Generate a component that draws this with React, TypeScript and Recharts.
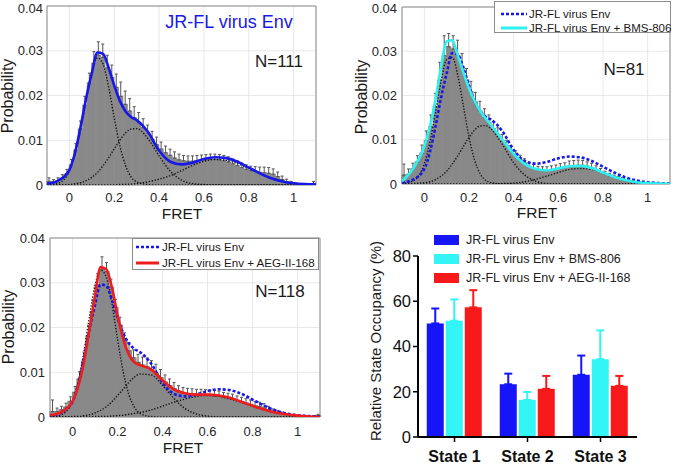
import React from "react";
import {
  ComposedChart,
  BarChart,
  Bar,
  Line,
  XAxis,
  YAxis,
  CartesianGrid,
  ErrorBar,
  ReferenceArea,
} from "recharts";

const FONT = '"Liberation Sans", Arial, Helvetica, sans-serif';

// FRET histogram bins (centres, width 0.02)
const BIN_CENTERS = [
  -0.09, -0.07, -0.05, -0.03, -0.01, 0.01, 0.03, 0.05, 0.07, 0.09,
  0.11, 0.13, 0.15, 0.17, 0.19, 0.21, 0.23, 0.25, 0.27, 0.29,
  0.31, 0.33, 0.35, 0.37, 0.39, 0.41, 0.43, 0.45, 0.47, 0.49,
  0.51, 0.53, 0.55, 0.57, 0.59, 0.61, 0.63, 0.65, 0.67, 0.69,
  0.71, 0.73, 0.75, 0.77, 0.79, 0.81, 0.83, 0.85, 0.87, 0.89,
  0.91, 0.93, 0.95, 0.97, 0.99, 1.01, 1.03, 1.05, 1.07, 1.09,
];

const X_TICKS = [0, 0.2, 0.4, 0.6, 0.8, 1];
const Y_TICKS = [0, 0.01, 0.02, 0.03, 0.04];

// JR-FL virus Env
const HIST_WT = [
  0.0008, 0.0007, 0.001, 0.0015, 0.0025, 0.0045, 0.0078, 0.0125, 0.0178, 0.0228,
  0.0272, 0.029, 0.0285, 0.0262, 0.024, 0.0218, 0.0198, 0.018, 0.0165, 0.015,
  0.014, 0.0128, 0.0116, 0.0102, 0.009, 0.008, 0.0072, 0.0066, 0.006, 0.0056,
  0.0054, 0.0053, 0.0053, 0.0054, 0.0055, 0.0056, 0.0057, 0.0057, 0.0056, 0.0054,
  0.0051, 0.0047, 0.0043, 0.0039, 0.0035, 0.0032, 0.003, 0.0028, 0.0027, 0.0026,
  0.0024, 0.0019, 0.0012, 0.0007, 0.0004, 0.0002, 0.0001, 0.0001, 0.0001, 0.0003,
];
const ERR_WT = [
  0.0008, 0.0005, 0.0006, 0.0008, 0.001, 0.0012, 0.0015, 0.0018, 0.002, 0.0022,
  0.0026, 0.003, 0.003, 0.0028, 0.0028, 0.003, 0.0032, 0.003, 0.0028, 0.0025,
  0.0022, 0.002, 0.0018, 0.0018, 0.0017, 0.0016, 0.0015, 0.0014, 0.0014, 0.0013,
  0.0012, 0.0012, 0.0012, 0.0012, 0.0012, 0.0012, 0.0012, 0.0012, 0.0012, 0.0012,
  0.0012, 0.0011, 0.0011, 0.001, 0.001, 0.001, 0.0011, 0.0012, 0.0013, 0.0013,
  0.0012, 0.001, 0.0008, 0.0006, 0.0004, 0.0003, 0.0002, 0.0002, 0.0002, 0.0005,
];

// JR-FL virus Env + BMS-806
const HIST_BMS = [
  0.002, 0.0022, 0.0035, 0.005, 0.007, 0.0098, 0.013, 0.0175, 0.0235, 0.029,
  0.031, 0.0305, 0.029, 0.0265, 0.0235, 0.0208, 0.0185, 0.0165, 0.015, 0.0138,
  0.0125, 0.0112, 0.0098, 0.0086, 0.0074, 0.0064, 0.0055, 0.0047, 0.004, 0.0035,
  0.0032, 0.0031, 0.0031, 0.0032, 0.0034, 0.0036, 0.0038, 0.004, 0.0041, 0.0042,
  0.0042, 0.004, 0.0037, 0.0032, 0.0027, 0.0022, 0.0018, 0.0015, 0.0012, 0.0009,
  0.0007, 0.0005, 0.0004, 0.0003, 0.0002, 0.0001, 0.0001, 0.0001, 0, 0,
];
const ERR_BMS = [
  0.0025, 0.0012, 0.0012, 0.0014, 0.0018, 0.0022, 0.0026, 0.003, 0.004, 0.0045,
  0.003, 0.003, 0.0035, 0.003, 0.0026, 0.0024, 0.0022, 0.0022, 0.002, 0.0018,
  0.0016, 0.0015, 0.0014, 0.0013, 0.0012, 0.0011, 0.001, 0.001, 0.0009, 0.0009,
  0.0008, 0.0008, 0.0008, 0.0009, 0.0009, 0.001, 0.001, 0.0012, 0.0012, 0.0012,
  0.0011, 0.001, 0.001, 0.0009, 0.0008, 0.0007, 0.0006, 0.0005, 0.0004, 0.0003,
  0.0003, 0.0002, 0.0002, 0.0001, 0.0001, 0.0001, 0.0001, 0.0001, 0, 0,
];

// JR-FL virus Env + AEG-II-168
const HIST_AEG = [
  0.0012, 0.0012, 0.0016, 0.0022, 0.0035, 0.0055, 0.0085, 0.0125, 0.018, 0.0235,
  0.0295, 0.033, 0.0325, 0.029, 0.0245, 0.0205, 0.017, 0.0148, 0.0132, 0.0122,
  0.0116, 0.0112, 0.0106, 0.0098, 0.0088, 0.0078, 0.007, 0.0063, 0.0058, 0.0054,
  0.0052, 0.0051, 0.005, 0.005, 0.0049, 0.0048, 0.0047, 0.0046, 0.0044, 0.0042,
  0.004, 0.0037, 0.0034, 0.0031, 0.0028, 0.0025, 0.0023, 0.002, 0.0016, 0.0012,
  0.0009, 0.0007, 0.0005, 0.0003, 0.0002, 0.0001, 0.0001, 0.0001, 0.0001, 0.0003,
];
const ERR_AEG = [
  0.0026, 0.0008, 0.0008, 0.0009, 0.001, 0.0013, 0.0016, 0.002, 0.0024, 0.0026,
  0.0025, 0.0028, 0.002, 0.0018, 0.0018, 0.0018, 0.0018, 0.0018, 0.0018, 0.0018,
  0.0018, 0.002, 0.002, 0.002, 0.0018, 0.0016, 0.0015, 0.0014, 0.0012, 0.0012,
  0.0012, 0.0012, 0.0012, 0.0012, 0.0012, 0.0012, 0.0012, 0.0012, 0.0011, 0.0011,
  0.0011, 0.001, 0.001, 0.001, 0.001, 0.001, 0.001, 0.001, 0.0008, 0.0006,
  0.0005, 0.0004, 0.0003, 0.0002, 0.0002, 0.0001, 0.0001, 0.0001, 0.0001, 0.0003,
];

// sample positions for the fitted curves
const FRET_GRID = [
  -0.1, -0.05, 0, 0.025, 0.05, 0.075, 0.1, 0.125, 0.15, 0.175, 0.2, 0.225, 0.25, 0.275, 0.3,
  0.35, 0.4, 0.45, 0.5, 0.55, 0.6, 0.65, 0.7, 0.75, 0.8, 0.85, 0.9, 0.95, 1.0, 1.05, 1.1,
];

const FIT_WT = [
  0.0003, 0.001, 0.0034, 0.0072, 0.013, 0.0195, 0.025, 0.0296, 0.0293, 0.0262, 0.0222, 0.0188, 0.0165, 0.0152, 0.0145,
  0.0119, 0.0077, 0.0052, 0.0046, 0.005, 0.0058, 0.0062, 0.006, 0.0052, 0.0039, 0.0026, 0.0015, 0.0008, 0.0004, 0.0002, 0.0001,
];
const WT_S1 = [
  0, 0.0004, 0.0031, 0.0068, 0.0124, 0.0193, 0.0253, 0.0284, 0.027, 0.0219, 0.015, 0.0088, 0.0044, 0.0018, 0.0007,
  0.0001, 0, 0, 0, 0, 0, 0, 0, 0, 0, 0, 0, 0, 0, 0, 0,
];
const WT_S2 = [
  0, 0, 0.0001, 0.0003, 0.0005, 0.001, 0.0017, 0.0028, 0.0043, 0.0061, 0.0081, 0.01, 0.0116, 0.0125, 0.0126,
  0.0104, 0.0065, 0.0031, 0.0011, 0.0003, 0.0001, 0, 0, 0, 0, 0, 0, 0, 0, 0, 0,
];
const WT_S3 = [
  0, 0, 0, 0, 0, 0, 0, 0, 0, 0, 0, 0.0001, 0.0001, 0.0002, 0.0003,
  0.0007, 0.0013, 0.0021, 0.0032, 0.0044, 0.0053, 0.0057, 0.0055, 0.0048, 0.0037, 0.0026, 0.0016, 0.0009, 0.0004, 0.0002, 0.0001,
];

const FIT_BMS = [
  0.0006, 0.0035, 0.0085, 0.013, 0.019, 0.0265, 0.0322, 0.0325, 0.029, 0.0252, 0.0216, 0.0188, 0.0165, 0.0148, 0.0132,
  0.01, 0.0068, 0.0045, 0.0034, 0.0031, 0.0035, 0.004, 0.0041, 0.0036, 0.0026, 0.0016, 0.0009, 0.0004, 0.0002, 0.0001, 0,
];
const BMS_S1 = [
  0.0001, 0.0007, 0.0046, 0.0094, 0.0161, 0.0232, 0.0281, 0.0286, 0.0245, 0.0176, 0.0106, 0.0054, 0.0023, 0.0008, 0.0003,
  0, 0, 0, 0, 0, 0, 0, 0, 0, 0, 0, 0, 0, 0, 0, 0,
];
const BMS_S2 = [
  0, 0.0001, 0.0003, 0.0005, 0.001, 0.0018, 0.0029, 0.0045, 0.0064, 0.0085, 0.0105, 0.0122, 0.0131, 0.0132, 0.0124,
  0.0089, 0.0048, 0.002, 0.0006, 0.0001, 0, 0, 0, 0, 0, 0, 0, 0, 0, 0, 0,
];
const BMS_S3 = [
  0, 0, 0, 0, 0, 0, 0, 0, 0, 0, 0, 0, 0, 0, 0,
  0.0001, 0.0002, 0.0005, 0.0011, 0.0018, 0.0026, 0.0033, 0.0035, 0.0033, 0.0026, 0.0018, 0.0011, 0.0005, 0.0002, 0.0001, 0,
];

const FIT_AEG = [
  0.0004, 0.0011, 0.0035, 0.0068, 0.012, 0.0195, 0.027, 0.0335, 0.033, 0.029, 0.0228, 0.0175, 0.014, 0.0122, 0.0116,
  0.0106, 0.0082, 0.0062, 0.0053, 0.005, 0.005, 0.0048, 0.0043, 0.0034, 0.0025, 0.0017, 0.001, 0.0006, 0.0003, 0.0001, 0,
];
const AEG_S1 = [
  0, 0.0005, 0.0036, 0.0079, 0.0143, 0.0223, 0.0294, 0.0328, 0.0313, 0.0254, 0.0174, 0.0102, 0.0051, 0.0022, 0.0008,
  0.0001, 0, 0, 0, 0, 0, 0, 0, 0, 0, 0, 0, 0, 0, 0, 0,
];
const AEG_S2 = [
  0, 0, 0.0001, 0.0001, 0.0003, 0.0005, 0.0009, 0.0015, 0.0023, 0.0034, 0.0048, 0.0062, 0.0077, 0.0089, 0.0096,
  0.0094, 0.0071, 0.0042, 0.0019, 0.0007, 0.0002, 0, 0, 0, 0, 0, 0, 0, 0, 0, 0,
];
const AEG_S3 = [
  0, 0, 0, 0, 0, 0, 0.0001, 0.0001, 0.0001, 0.0002, 0.0003, 0.0004, 0.0006, 0.0008, 0.001,
  0.0016, 0.0024, 0.0033, 0.004, 0.0046, 0.0048, 0.0046, 0.004, 0.0033, 0.0024, 0.0016, 0.001, 0.0006, 0.0003, 0.0001, 0.0001,
];

// state occupancy bar chart
const STATES = ["State 1", "State 2", "State 3"];
const OCC_WT = [50.2, 23.3, 27.5];
const OCC_WT_ERR = [6.6, 4.7, 8.5];
const OCC_BMS = [51.4, 16.4, 34.4];
const OCC_BMS_ERR = [9.4, 3.5, 12.7];
const OCC_AEG = [57.3, 21.3, 22.6];
const OCC_AEG_ERR = [7.6, 5.7, 4.4];

const BLUE = "#1818e6";
const CYAN = "#2ef0f0";
const RED = "#ee1c1c";
const BAR_BLUE = "#1515f8";
const BAR_CYAN = "#33f5f5";
const BAR_RED = "#f81a1a";

const toPoints = (vals: number[]) => FRET_GRID.map((x, i) => ({ x, y: vals[i] }));

type Curve = { vals: number[]; stroke: string; width: number; dash?: string };

const dotted = (vals: number[]): Curve => ({ vals, stroke: "#111", width: 1.4, dash: "1.3 1.7" });

function HistPanel(props: {
  left: number;
  top: number;
  width: number;
  height: number;
  margin: { top: number; right: number; left: number; bottom: number };
  yAxisWidth: number;
  xAxisHeight: number;
  xTickMargin: number;
  yTickMargin: number;
  hist: number[];
  err: number[];
  curves: Curve[];
}) {
  const rows = BIN_CENTERS.map((b, i) => ({ bin: b, p: props.hist[i], e: [0, props.err[i]] }));
  const tick = { fontSize: 13, fill: "#262626", fontFamily: FONT };
  return (
    <div style={{ position: "absolute", left: props.left, top: props.top }}>
      <ComposedChart
        width={props.width}
        height={props.height}
        data={rows}
        margin={props.margin}
        barCategoryGap={0}
        barGap={0}
      >
        <CartesianGrid xAxisId="fret" stroke="#e2e2e2" strokeWidth={0.8} />
        <XAxis
          xAxisId="fret"
          dataKey="x"
          type="number"
          domain={[-0.1, 1.1]}
          ticks={X_TICKS}
          allowDataOverflow
          height={props.xAxisHeight}
          axisLine={false}
          tickLine={false}
          tickSize={0}
          tickMargin={props.xTickMargin}
          tick={tick}
        />
        <XAxis xAxisId="bins" dataKey="bin" type="category" orientation="top" height={0} hide />
        <YAxis
          type="number"
          domain={[0, 0.04]}
          ticks={Y_TICKS}
          allowDataOverflow
          width={props.yAxisWidth}
          axisLine={false}
          tickLine={false}
          tickSize={0}
          tickMargin={props.yTickMargin}
          tick={tick}
        />
        <Bar xAxisId="bins" dataKey="p" fill="#898989" stroke="#898989" strokeWidth={1.2} isAnimationActive={false}>
          <ErrorBar dataKey="e" direction="y" width={1.5} stroke="#555" strokeWidth={1} />
        </Bar>
        {props.curves.map((c, i) => (
          <Line
            key={i}
            xAxisId="fret"
            data={toPoints(c.vals)}
            dataKey="y"
            type="monotone"
            stroke={c.stroke}
            strokeWidth={c.width}
            strokeDasharray={c.dash}
            dot={false}
            activeDot={false}
            isAnimationActive={false}
          />
        ))}
        <ReferenceArea xAxisId="fret" x1={-0.1} x2={1.1} y1={0} y2={0.04} fill="none" stroke="#8c8c8c" strokeWidth={1} />
      </ComposedChart>
    </div>
  );
}

function Txt(props: {
  x: number;
  y: number;
  size: number;
  color?: string;
  rotate?: boolean;
  weight?: string;
  children: React.ReactNode;
}) {
  return (
    <div
      style={{
        position: "absolute",
        left: props.x,
        top: props.y,
        transform: `translate(-50%, -50%)${props.rotate ? " rotate(-90deg)" : ""}`,
        fontSize: props.size,
        color: props.color || "#1a1a1a",
        fontWeight: props.weight || "normal",
        whiteSpace: "nowrap",
        lineHeight: 1,
        fontFamily: FONT,
      }}
    >
      {props.children}
    </div>
  );
}

function LineLegend(props: {
  left: number;
  top: number;
  width: number;
  height: number;
  padTop: number;
  rowH: number;
  sampleX: number;
  sampleW: number;
  textX: number;
  size: number;
  items: { label: string; color: string; width: number; dash?: string }[];
}) {
  return (
    <div
      style={{
        position: "absolute",
        left: props.left,
        top: props.top,
        width: props.width,
        height: props.height,
        boxSizing: "border-box",
        border: "1px solid #8c8c8c",
        background: "#fff",
        paddingTop: props.padTop,
        fontFamily: FONT,
      }}
    >
      {props.items.map((it) => (
        <div key={it.label} style={{ position: "relative", height: props.rowH }}>
          <svg
            width={props.sampleW}
            height={props.rowH}
            style={{ position: "absolute", left: props.sampleX, top: 0 }}
          >
            <line
              x1={0}
              x2={props.sampleW}
              y1={props.rowH / 2}
              y2={props.rowH / 2}
              stroke={it.color}
              strokeWidth={it.width}
              strokeDasharray={it.dash}
            />
          </svg>
          <div
            style={{
              position: "absolute",
              left: props.textX,
              top: 0,
              height: props.rowH,
              lineHeight: `${props.rowH}px`,
              fontSize: props.size,
              color: "#1a1a1a",
              whiteSpace: "nowrap",
            }}
          >
            {it.label}
          </div>
        </div>
      ))}
    </div>
  );
}

function OccupancyPanel() {
  const rows = STATES.map((s, i) => ({
    state: s,
    wt: OCC_WT[i],
    wtErr: [0, OCC_WT_ERR[i]],
    bms: OCC_BMS[i],
    bmsErr: [0, OCC_BMS_ERR[i]],
    aeg: OCC_AEG[i],
    aegErr: [0, OCC_AEG_ERR[i]],
  }));
  return (
    <div style={{ position: "absolute", left: 335, top: 230 }}>
      <BarChart
        width={340}
        height={235}
        data={rows}
        margin={{ top: 26, right: 38, left: 0, bottom: 0 }}
        barCategoryGap="12%"
        barGap={2}
      >
        <XAxis
          dataKey="state"
          height={28}
          axisLine={{ stroke: "#000", strokeWidth: 2 }}
          tickLine={{ stroke: "#000", strokeWidth: 1.5 }}
          tickSize={5}
          tickMargin={9}
          tick={{ fontSize: 16, fontWeight: "bold", fill: "#111", fontFamily: FONT }}
        />
        <YAxis
          domain={[0, 80]}
          ticks={[0, 20, 40, 60, 80]}
          width={83}
          axisLine={{ stroke: "#000", strokeWidth: 2 }}
          tickLine={{ stroke: "#000", strokeWidth: 1.5 }}
          tickSize={5}
          tickMargin={2}
          tick={{ fontSize: 16.5, fill: "#111", fontFamily: FONT }}
        />
        <Bar dataKey="wt" fill={BAR_BLUE} isAnimationActive={false}>
          <ErrorBar dataKey="wtErr" direction="y" width={4} stroke={BAR_BLUE} strokeWidth={2} />
        </Bar>
        <Bar dataKey="bms" fill={BAR_CYAN} isAnimationActive={false}>
          <ErrorBar dataKey="bmsErr" direction="y" width={4} stroke={BAR_CYAN} strokeWidth={2} />
        </Bar>
        <Bar dataKey="aeg" fill={BAR_RED} isAnimationActive={false}>
          <ErrorBar dataKey="aegErr" direction="y" width={4} stroke={BAR_RED} strokeWidth={2} />
        </Bar>
      </BarChart>
    </div>
  );
}

const BAR_LEGEND = [
  { label: "JR-FL virus Env", color: BAR_BLUE },
  { label: "JR-FL virus Env + BMS-806", color: BAR_CYAN },
  { label: "JR-FL virus Env + AEG-II-168", color: BAR_RED },
];

export default function App() {
  return (
    <div
      style={{
        position: "absolute",
        left: 0,
        top: 0,
        width: 675,
        height: 465,
        background: "#fff",
        overflow: "hidden",
        fontFamily: FONT,
      }}
    >
      {/* panel 1 */}
      <HistPanel
        left={0}
        top={0}
        width={330}
        height={225}
        margin={{ top: 6, right: 14, left: 0, bottom: 0 }}
        yAxisWidth={47}
        xAxisHeight={40}
        xTickMargin={8}
        yTickMargin={4}
        hist={HIST_WT}
        err={ERR_WT}
        curves={[dotted(WT_S1), dotted(WT_S2), dotted(WT_S3), { vals: FIT_WT, stroke: BLUE, width: 2.6 }]}
      />
      <Txt x={8} y={96} size={16} rotate>Probability</Txt>
      <Txt x={182} y={214} size={15.5}>FRET</Txt>
      <Txt x={229} y={22} size={18} color={BLUE}>JR-FL virus Env</Txt>
      <Txt x={279} y={61} size={17}>N=111</Txt>

      {/* panel 2 */}
      <HistPanel
        left={335}
        top={0}
        width={340}
        height={225}
        margin={{ top: 7, right: 5, left: 0, bottom: 0 }}
        yAxisWidth={67}
        xAxisHeight={41}
        xTickMargin={9}
        yTickMargin={5}
        hist={HIST_BMS}
        err={ERR_BMS}
        curves={[
          dotted(BMS_S1),
          dotted(BMS_S2),
          dotted(BMS_S3),
          { vals: FIT_WT, stroke: BLUE, width: 2.6, dash: "3 2" },
          { vals: FIT_BMS, stroke: CYAN, width: 2.6 },
        ]}
      />
      <Txt x={362} y={97} size={16} rotate>Probability</Txt>
      <Txt x={537} y={213} size={15.5}>FRET</Txt>
      <Txt x={624} y={69} size={17}>N=81</Txt>
      <LineLegend
        left={494}
        top={1}
        width={177}
        height={32}
        padTop={5}
        rowH={14}
        sampleX={6}
        sampleW={26}
        textX={34}
        size={11.5}
        items={[
          { label: "JR-FL virus Env", color: BLUE, width: 2.6, dash: "3 2" },
          { label: "JR-FL virus Env + BMS-806", color: CYAN, width: 3 },
        ]}
      />

      {/* panel 3 */}
      <HistPanel
        left={0}
        top={230}
        width={335}
        height={235}
        margin={{ top: 8, right: 15, left: 0, bottom: 0 }}
        yAxisWidth={50}
        xAxisHeight={48}
        xTickMargin={10}
        yTickMargin={5}
        hist={HIST_AEG}
        err={ERR_AEG}
        curves={[
          dotted(AEG_S1),
          dotted(AEG_S2),
          dotted(AEG_S3),
          { vals: FIT_WT, stroke: BLUE, width: 2.6, dash: "3 2" },
          { vals: FIT_AEG, stroke: RED, width: 2.6 },
        ]}
      />
      <Txt x={9} y={327} size={16} rotate>Probability</Txt>
      <Txt x={183} y={448} size={15.5}>FRET</Txt>
      <Txt x={280} y={291} size={17}>N=118</Txt>
      <LineLegend
        left={132}
        top={238}
        width={187}
        height={32}
        padTop={0}
        rowH={16}
        sampleX={3}
        sampleW={23}
        textX={29}
        size={11.6}
        items={[
          { label: "JR-FL virus Env", color: BLUE, width: 2.6, dash: "3 2" },
          { label: "JR-FL virus Env + AEG-II-168", color: RED, width: 3 },
        ]}
      />

      {/* panel 4 */}
      <OccupancyPanel />
      <Txt x={375} y={341} size={15} rotate>Relative State Occupancy (%)</Txt>
      {BAR_LEGEND.map((it, i) => (
        <div
          key={it.label}
          style={{ position: "absolute", left: 434, top: 235 + i * 19, height: 10, display: "flex", alignItems: "center" }}
        >
          <div style={{ width: 25, height: 10, background: it.color }} />
          <div style={{ marginLeft: 7, fontSize: 12.5, color: "#222", whiteSpace: "nowrap", lineHeight: 1 }}>
            {it.label}
          </div>
        </div>
      ))}
    </div>
  );
}
